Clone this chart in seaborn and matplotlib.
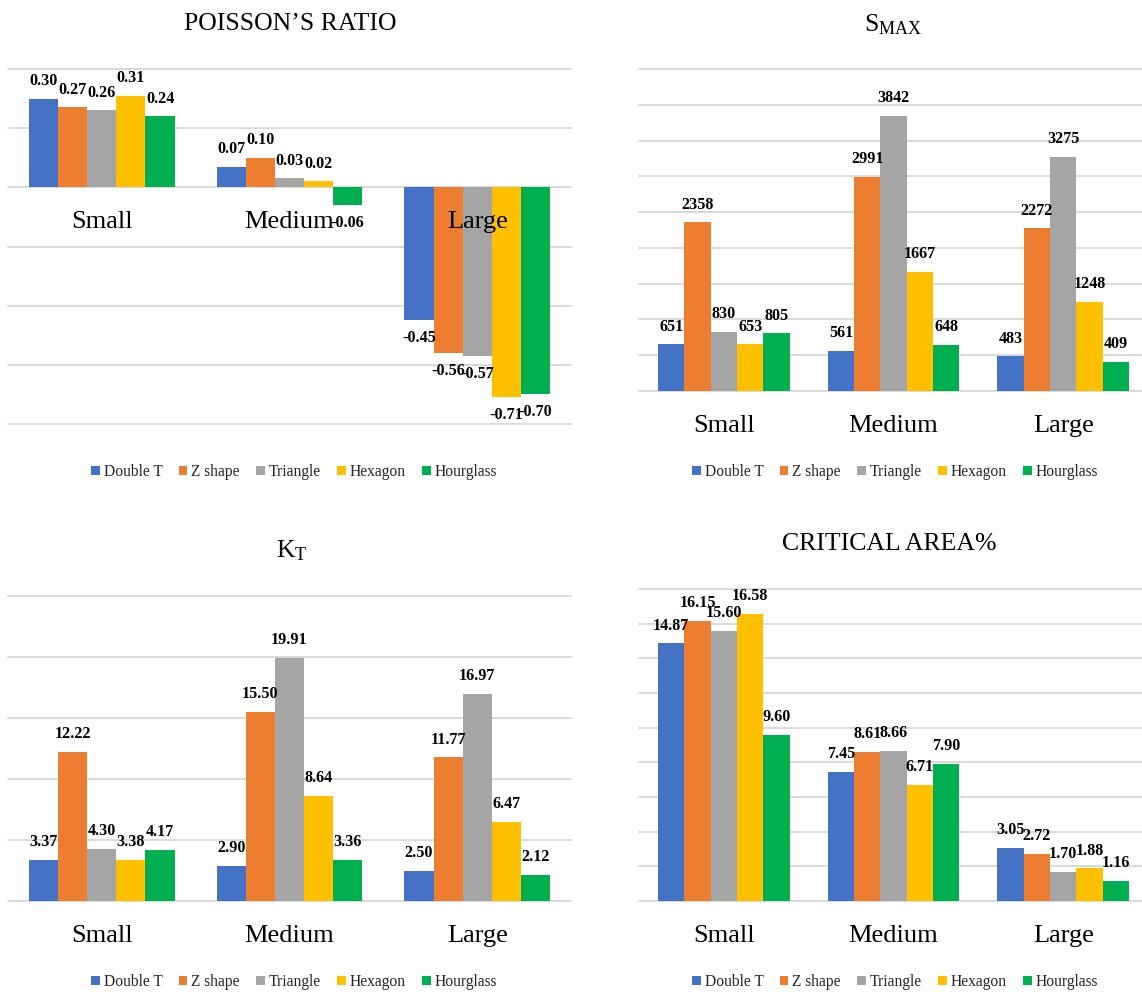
import matplotlib
matplotlib.use("Agg")
import matplotlib.pyplot as plt
import pandas as pd
import seaborn as sns

# ---- data -------------------------------------------------------------
sizes = ["Small", "Medium", "Large"]
shapes = ["Double T", "Z shape", "Triangle", "Hexagon", "Hourglass"]
colors = ["#4472C4", "#ED7D31", "#A5A5A5", "#FFC000", "#00B050"]

poisson_double_t = [0.30, 0.07, -0.45]
poisson_z_shape = [0.27, 0.10, -0.56]
poisson_triangle = [0.26, 0.03, -0.57]
poisson_hexagon = [0.31, 0.02, -0.71]
poisson_hourglass = [0.24, -0.06, -0.70]

smax_double_t = [651, 561, 483]
smax_z_shape = [2358, 2991, 2272]
smax_triangle = [830, 3842, 3275]
smax_hexagon = [653, 1667, 1248]
smax_hourglass = [805, 648, 409]

kt_double_t = [3.37, 2.90, 2.50]
kt_z_shape = [12.22, 15.50, 11.77]
kt_triangle = [4.30, 19.91, 16.97]
kt_hexagon = [3.38, 8.64, 6.47]
kt_hourglass = [4.17, 3.36, 2.12]

crit_double_t = [14.87, 7.45, 3.05]
crit_z_shape = [16.15, 8.61, 2.72]
crit_triangle = [15.60, 8.66, 1.70]
crit_hexagon = [16.58, 6.71, 1.88]
crit_hourglass = [9.60, 7.90, 1.16]


def long_frame(series):
    rows = []
    for shape, vals in zip(shapes, series):
        for size, v in zip(sizes, vals):
            rows.append({"size": size, "shape": shape, "value": v})
    return pd.DataFrame(rows)


# ---- style ------------------------------------------------------------
sns.set_theme(style="white")
plt.rcParams["font.family"] = ["Liberation Serif", "DejaVu Serif"]
plt.rcParams["mathtext.fontset"] = "custom"
plt.rcParams["mathtext.rm"] = "Liberation Serif"

W, H = 1142, 992
fig = plt.figure(figsize=(W / 100, H / 100), dpi=100)


def fx(px):
    return px / W


def fy(py):
    return 1 - py / H


panels = [
    dict(title="POISSON\u2019S RATIO",
         series=[poisson_double_t, poisson_z_shape, poisson_triangle,
                 poisson_hexagon, poisson_hourglass],
         ylim=(-0.8, 0.4), step=0.2, fmt="{:.2f}",
         box=(8, 69, 571, 424), title_xy=(290, 30), legend_xy=(294, 471)),
    dict(title=r"$\mathrm{S_{MAX}}$",
         series=[smax_double_t, smax_z_shape, smax_triangle,
                 smax_hexagon, smax_hourglass],
         ylim=(0, 4500), step=500, fmt="{:.0f}",
         box=(639, 69, 1148, 391), title_xy=(893, 31), legend_xy=(895, 471)),
    dict(title=r"$\mathrm{K_{T}}$",
         series=[kt_double_t, kt_z_shape, kt_triangle,
                 kt_hexagon, kt_hourglass],
         ylim=(0, 25), step=5, fmt="{:.2f}",
         box=(8, 596, 571, 901), title_xy=(292, 557), legend_xy=(294, 981)),
    dict(title="CRITICAL AREA%",
         series=[crit_double_t, crit_z_shape, crit_triangle,
                 crit_hexagon, crit_hourglass],
         ylim=(0, 18), step=2, fmt="{:.2f}",
         box=(639, 589, 1148, 901), title_xy=(889, 550), legend_xy=(895, 981)),
]

for p in panels:
    x0, y0, x1, y1 = p["box"]
    ax = fig.add_axes([fx(x0), fy(y1), fx(x1 - x0), (y1 - y0) / H])
    df = long_frame(p["series"])
    sns.barplot(data=df, x="size", y="value", hue="shape",
                order=sizes, hue_order=shapes, palette=colors,
                saturation=1, width=0.775, gap=0, linewidth=0,
                errorbar=None, ax=ax)

    lo, hi = p["ylim"]
    n = int(round((hi - lo) / p["step"]))
    ax.set_ylim(lo, hi)
    ax.set_yticks([lo + i * p["step"] for i in range(n + 1)])
    ax.set_xlim(-0.5, 2.5)
    ax.yaxis.grid(True, color="#D9D9D9", linewidth=1.4)
    ax.set_axisbelow(True)
    for gl in ax.get_ygridlines():
        gl.set_clip_on(False)
    ax.tick_params(left=False, bottom=False, labelleft=False, labelbottom=False)
    ax.set_xlabel("")
    ax.set_ylabel("")
    for s in ax.spines.values():
        s.set_visible(False)

    # value labels
    for cont in ax.containers:
        ax.bar_label(cont, fmt=p["fmt"], padding=7, fontsize=11.6,
                     fontweight="bold", color="black")

    # category labels sit just below the zero line
    for i, name in enumerate(sizes):
        ax.annotate(name, xy=(i, 0), xycoords="data", xytext=(0, -41),
                    textcoords="offset pixels", ha="center", va="baseline",
                    fontsize=19, color="black", zorder=5)

    tx, ty = p["title_xy"]
    fig.text(fx(tx), fy(ty), p["title"], ha="center", va="baseline",
             fontsize=18.5, color="black")

    lx, ly = p["legend_xy"]
    sns.move_legend(ax, loc="center", bbox_to_anchor=(fx(lx), fy(ly + 1)),
                    bbox_transform=fig.transFigure, ncol=5, frameon=False,
                    title=None, fontsize=11.2, handlelength=0.55,
                    handleheight=0.55, handletextpad=0.25, columnspacing=1.05)

fig.savefig("out.png", dpi=100, facecolor="white")
